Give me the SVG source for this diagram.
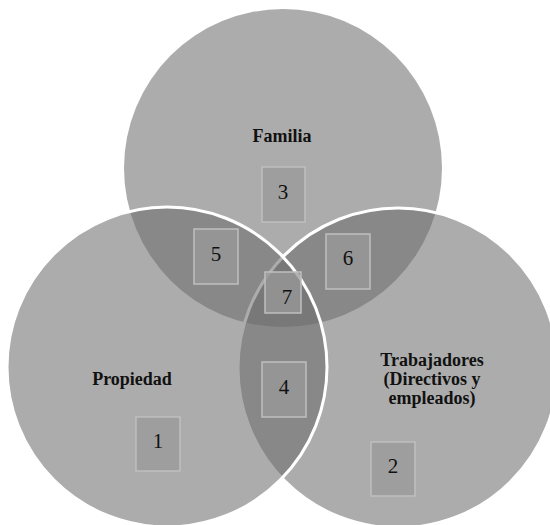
<svg xmlns="http://www.w3.org/2000/svg" width="550" height="525" viewBox="0 0 550 525">
  <style>
    .set { fill: #6c6c6c; fill-opacity: 0.566; }
    .rim { stroke: #ffffff; stroke-width: 3; }
    .cell { fill: #999999; fill-opacity: 0.75; stroke: #bfbfbf; stroke-width: 1.5; }
    .num { font-family: "Liberation Serif", "Times New Roman", serif; font-size: 21px; fill: #111111; text-anchor: middle; }
    .title { font-family: "Liberation Serif", "Times New Roman", serif; font-size: 18px; font-weight: bold; fill: #111111; text-anchor: middle; }
  </style>
  <rect width="550" height="525" fill="#ffffff"/>

  <!-- three overlapping sets: top, right, then left on top -->
  <g id="familia">
    <circle class="set" cx="283" cy="168" r="159"/>
    <text class="title" x="282" y="142">Familia</text>
  </g>
  <g id="trabajadores">
    <circle class="set rim" cx="398" cy="368" r="160"/>
    <text class="title" x="432" y="366">Trabajadores</text>
    <text class="title" x="432" y="385">(Directivos y</text>
    <text class="title" x="432" y="404">empleados)</text>
  </g>
  <g id="propiedad">
    <circle class="set rim" cx="167" cy="367" r="160"/>
    <text class="title" x="132" y="385">Propiedad</text>
  </g>

  <!-- numbered zones -->
  <g id="zone-1">
    <rect class="cell" x="136" y="417" width="44" height="54"/>
    <text class="num" x="158" y="448">1</text>
  </g>
  <g id="zone-2">
    <rect class="cell" x="371" y="442" width="44" height="54"/>
    <text class="num" x="393" y="473">2</text>
  </g>
  <g id="zone-3">
    <rect class="cell" x="262" y="167" width="43" height="55"/>
    <text class="num" x="283" y="199">3</text>
  </g>
  <g id="zone-4">
    <rect class="cell" x="262" y="362" width="44" height="55"/>
    <text class="num" x="284" y="394">4</text>
  </g>
  <g id="zone-5">
    <rect class="cell" x="194" y="229" width="44" height="55"/>
    <text class="num" x="216" y="261">5</text>
  </g>
  <g id="zone-6">
    <rect class="cell" x="326" y="234" width="44" height="55"/>
    <text class="num" x="348" y="265">6</text>
  </g>
  <g id="zone-7">
    <rect class="cell" x="265" y="272" width="36" height="41"/>
    <text class="num" x="287" y="304">7</text>
  </g>
</svg>
